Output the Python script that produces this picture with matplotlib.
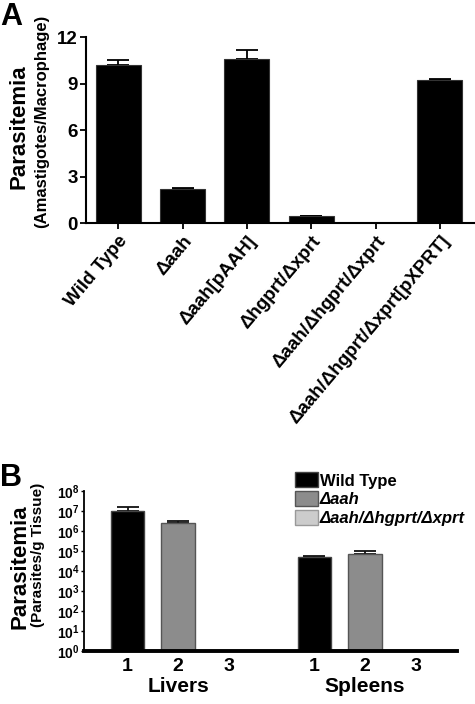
import numpy as np
import matplotlib
matplotlib.use('Agg')
import matplotlib.pyplot as plt
from matplotlib.patches import Patch

plt.rcParams['font.family'] = ['Liberation Sans', 'DejaVu Sans']
plt.rcParams['font.weight'] = 'bold'
plt.rcParams['mathtext.fontset'] = 'custom'
plt.rcParams['mathtext.rm'] = 'Liberation Sans'
plt.rcParams['mathtext.bf'] = 'Liberation Sans:bold'
plt.rcParams['mathtext.it'] = 'Liberation Sans:italic'

# Panel A data
strains_a = ['Wild Type', '\u0394aah', '\u0394aah[pAAH]', '\u0394hgprt/\u0394xprt',
             '\u0394aah/\u0394hgprt/\u0394xprt', '\u0394aah/\u0394hgprt/\u0394xprt[pXPRT]']
mean_a = [10.2, 2.18, 10.6, 0.45, 0.0, 9.2]
err_a = [0.35, 0.06, 0.55, 0.02, 0.0, 0.08]
yticks_a = [0, 3, 6, 9, 12]

# Panel B data
groups_b = ['Livers', 'Spleens']
series_b = ['Wild Type', '\u0394aah', '\u0394aah/\u0394hgprt/\u0394xprt']
mean_b = {'Wild Type': [1.0e7, 4.9e4],
          '\u0394aah': [2.5e6, 7.0e4],
          '\u0394aah/\u0394hgprt/\u0394xprt': [0, 0]}
err_b = {'Wild Type': [0.5e7, 0.8e4],
         '\u0394aah': [0.5e6, 3.0e4],
         '\u0394aah/\u0394hgprt/\u0394xprt': [0, 0]}
tick_labels_b = ['1', '2', '3']
decades_b = list(range(9))
colors_b = ['#000000', '#8c8c8c', '#cccccc']
edges_b = ['#444444', '#555555', '#999999']

fig = plt.figure(figsize=(4.75, 7.04), dpi=100)

# ---- Panel A ----
ax = fig.add_axes([0.181, 0.6832, 0.817, 0.2642])
x = np.arange(len(strains_a))
ax.bar(x, mean_a, width=0.7, color='black', edgecolor='#333333', linewidth=0.8, zorder=2)
ax.errorbar(x, mean_a, yerr=[np.zeros(len(err_a)), err_a], fmt='none',
            ecolor='black', elinewidth=1.3, capsize=8, capthick=1.3, zorder=1)
ax.set_xlim(-0.5, 5.53)
ax.set_ylim(0, 12)
ax.set_yticks(yticks_a)
ax.set_xticks(x)
ax.set_xticklabels(strains_a, rotation=50, ha='right', rotation_mode='anchor',
                   fontsize=13.5, fontweight='bold')
ax.tick_params(axis='y', labelsize=13.5, width=1.3, length=4, pad=2)
ax.tick_params(axis='x', width=1.3, length=4, pad=3)
for s in ['top', 'right']:
    ax.spines[s].set_visible(False)
for s in ['left', 'bottom']:
    ax.spines[s].set_linewidth(1.5)
fig.text(0.040, 0.820, 'Parasitemia', rotation=90, ha='center', va='center',
         fontsize=16, fontweight='bold')
fig.text(0.088, 0.828, '(Amastigotes/Macrophage)', rotation=90, ha='center',
         va='center', fontsize=12, fontweight='bold')
fig.text(0.0, 0.997, 'A', fontsize=22, fontweight='bold', ha='left', va='top')

# ---- Panel B ----
axb = fig.add_axes([0.177, 0.0753, 0.785, 0.2273])
xb = np.array([0.0, 3.7])
for i, name in enumerate(series_b):
    vals = np.array(mean_b[name], dtype=float)
    pos = xb + i
    axb.bar(pos, np.where(vals > 0, vals, np.nan), width=0.66, bottom=1,
            color=colors_b[i], edgecolor=edges_b[i], linewidth=1, zorder=2)
    errs = np.array(err_b[name], dtype=float)
    mask = vals > 0
    axb.errorbar(pos[mask], vals[mask], yerr=[np.zeros(mask.sum()), errs[mask]],
                 fmt='none', ecolor='#111111', elinewidth=1.3, capsize=8,
                 capthick=1.3, zorder=1)
axb.set_yscale('log')
axb.set_ylim(1, 1e8)
axb.set_xlim(-0.86, 6.52)
axb.set_yticks([10.0 ** k for k in decades_b])
axb.set_yticklabels([r'$\mathbf{10^{%d}}$' % k for k in decades_b])
axb.minorticks_off()
axb.tick_params(axis='y', labelsize=10, width=1, length=2, pad=1)
pos_all = np.concatenate([xb[0] + np.arange(3), xb[1] + np.arange(3)])
axb.set_xticks(pos_all)
axb.set_xticklabels(tick_labels_b * 2, fontsize=14, fontweight='bold')
axb.tick_params(axis='x', length=0, pad=5)
for s in ['top', 'right']:
    axb.spines[s].set_visible(False)
axb.spines['left'].set_linewidth(1.3)
axb.spines['bottom'].set_linewidth(2.8)
for g, name in enumerate(groups_b):
    axb.text(xb[g] + 1, -0.16, name, transform=axb.get_xaxis_transform(),
             ha='center', va='top', fontsize=15, fontweight='bold')
handles = [Patch(facecolor=colors_b[i], edgecolor=edges_b[i], linewidth=1)
           for i in range(3)]
leg = fig.legend(handles, series_b, loc='upper left', bbox_to_anchor=(0.622, 0.329),
                 frameon=False, fontsize=12, handlelength=1.35, handleheight=1.0,
                 handletextpad=0.12, labelspacing=0.15, borderpad=0, borderaxespad=0)
for i, t in enumerate(leg.get_texts()):
    t.set_fontweight('bold')
    if i > 0:
        t.set_fontstyle('italic')
fig.text(0.042, 0.195, 'Parasitemia', rotation=90, ha='center', va='center',
         fontsize=16, fontweight='bold')
fig.text(0.080, 0.212, '(Parasites/g Tissue)', rotation=90, ha='center',
         va='center', fontsize=11, fontweight='bold')
fig.text(0.0, 0.343, 'B', fontsize=22, fontweight='bold', ha='left', va='top')

fig.savefig('out.png', dpi=100)
